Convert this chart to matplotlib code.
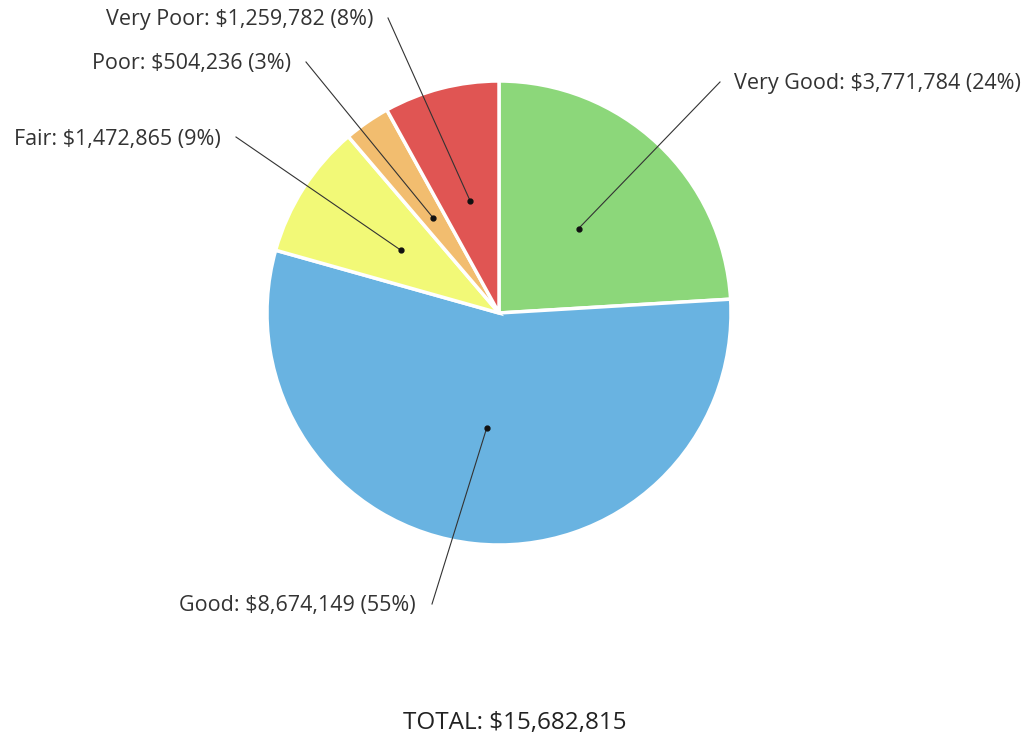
import matplotlib.pyplot as plt
import numpy as np

plt.rcParams['font.family'] = ['Open Sans', 'DejaVu Sans']

categories = ['Very Good', 'Good', 'Fair', 'Poor', 'Very Poor']
values = [3771784, 8674149, 1472865, 504236, 1259782]
percents = [24, 55, 9, 3, 8]
total_value = 15682815
colors = ['#8cd77a', '#69b3e1', '#f2f977', '#f2bd6f', '#e05553']

W, H = 1028, 736
cx, cy, radius = 499, 313, 232

# label anchor (text side of leader line) and text alignment, in pixel coords
label_pos = {
    'Very Good': (720, 82, 734, 'left'),
    'Good': (432, 604, 416, 'right'),
    'Fair': (236, 137, 221, 'right'),
    'Poor': (306, 62, 291, 'right'),
    'Very Poor': (388, 18, 373, 'right'),
}

fig = plt.figure(figsize=(W / 100, H / 100), dpi=100)
ax = fig.add_axes([0, 0, 1, 1])


def fy(y):
    return H - y


wedges, _ = ax.pie(values, colors=colors, startangle=90, counterclock=False,
                   center=(cx, fy(cy)), radius=radius,
                   wedgeprops=dict(edgecolor='white', linewidth=2.5))

# pie() resets the view, so fix the pixel-sized limits afterwards
ax.set_xlim(0, W)
ax.set_ylim(0, H)
ax.set_aspect('equal')
ax.axis('off')

for w, cat, v, pct in zip(wedges, categories, values, percents):
    mid = np.deg2rad((w.theta1 + w.theta2) / 2)
    dx = cx + 0.5 * radius * np.cos(mid)
    dy = fy(cy) + 0.5 * radius * np.sin(mid)
    lx, ly, tx, ha = label_pos[cat]
    ax.plot([dx, lx], [dy, fy(ly)], color='#333333', lw=0.8)
    ax.plot(dx, dy, 'o', color='#111111', ms=3.5)
    ax.text(tx, fy(ly) - 2, f'{cat}: ${v:,} ({pct}%)', ha=ha, va='center',
            fontsize=15.5, color='#333333')

ax.text(515, fy(723), f'TOTAL: ${total_value:,}', ha='center', va='center',
        fontsize=17.5, color='#222222')

fig.savefig('out.png', dpi=100)
